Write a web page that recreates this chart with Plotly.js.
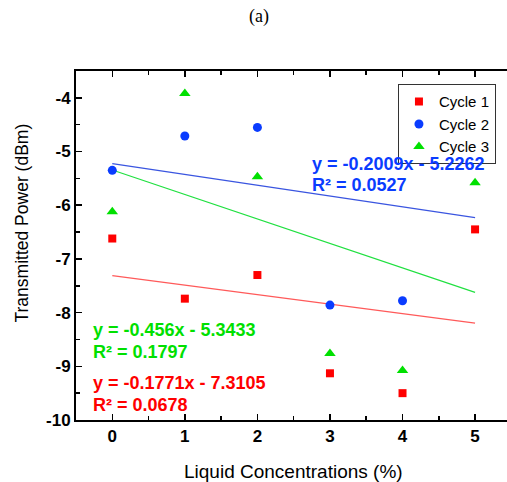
<!DOCTYPE html>
<html><head><meta charset="utf-8">
<script src="https://cdn.plot.ly/plotly-3.0.1.min.js"></script>
<style>html,body{margin:0;padding:0;background:#fff}#c{width:507px;height:482px}</style>
</head><body><div id="c"></div>
<script>
const concentrations = [0, 1, 2, 3, 4, 5];
const cycle1 = [-6.62, -7.74, -7.30, -9.13, -9.50, -6.45];
const cycle2x = [0, 1, 2, 3, 4];
const cycle2 = [-5.35, -4.71, -4.55, -7.86, -7.78];
const cycle3 = [-6.12, -3.92, -5.47, -8.76, -9.08, -5.58];
const seriesNames = ['Cycle 1', 'Cycle 2', 'Cycle 3'];
const fitSlopes = [-0.1771, -0.2009, -0.456];
const fitIntercepts = [-7.3105, -5.2262, -5.3433];
const fitR2 = ['0.0678', '0.0527', '0.1797'];
const fitText = ['y = -0.1771x - 7.3105', 'y = -0.2009x - 5.2262', 'y = -0.456x - 5.3433'];
const yTicks = [-10, -9, -8, -7, -6, -5, -4];

const colors = ['#ff0000', '#0a3cff', '#00e000'];
const lineColors = ['#ff5a5a', '#3a55e0', '#20e040'];
const fitX = [concentrations[0], concentrations[concentrations.length - 1]];
const FONT = 'Arial, Liberation Sans, sans-serif';

const traces = [
  {x: concentrations, y: cycle1, name: seriesNames[0], mode: 'markers', type: 'scatter',
   marker: {symbol: 'square', size: 8, color: colors[0]}},
  {x: cycle2x, y: cycle2, name: seriesNames[1], mode: 'markers', type: 'scatter',
   marker: {symbol: 'circle', size: 9, color: colors[1]}},
  {x: concentrations, y: cycle3, name: seriesNames[2], mode: 'markers', type: 'scatter',
   marker: {symbol: 'triangle-up', size: 10, color: colors[2]}}
];
for (let i = 0; i < 3; i++) {
  traces.unshift({x: fitX, y: fitX.map(v => fitSlopes[i] * v + fitIntercepts[i]),
    mode: 'lines', type: 'scatter', showlegend: false, hoverinfo: 'skip',
    line: {color: lineColors[i], width: 1.2}});
}

const annPos = [
  {x: -0.29, y1: -9.31, y2: -9.72},
  {x: 2.73, y1: -5.24, y2: -5.63},
  {x: -0.29, y1: -8.33, y2: -8.74}
];
const annotations = [];
for (let i = 0; i < 3; i++) {
  const f = {family: FONT, size: 18, color: colors[i]};
  annotations.push({x: annPos[i].x, y: annPos[i].y1, xref: 'x', yref: 'y', text: '<b>' + fitText[i] + '</b>',
    showarrow: false, xanchor: 'left', yanchor: 'middle', font: f});
  annotations.push({x: annPos[i].x, y: annPos[i].y2, xref: 'x', yref: 'y', text: '<b>R² = ' + fitR2[i] + '</b>',
    showarrow: false, xanchor: 'left', yanchor: 'middle', font: f});
}
annotations.push({xref: 'paper', yref: 'paper', x: (21 - 76) / 431, y: (420 - 223.5) / 349,
  text: 'Transmitted Power (dBm)', textangle: -90, showarrow: false, xanchor: 'center', yanchor: 'middle',
  font: {family: FONT, size: 17.5, color: '#000'}});
annotations.push({xref: 'paper', yref: 'paper', x: (293.5 - 76) / 431, y: (420 - 471) / 349,
  text: 'Liquid Concentrations (%)', showarrow: false, xanchor: 'center', yanchor: 'middle',
  font: {family: FONT, size: 19, color: '#000'}});
annotations.push({xref: 'paper', yref: 'paper', x: (259 - 76) / 431, y: (420 - 16) / 349,
  text: '(a)', showarrow: false, xanchor: 'center', yanchor: 'middle',
  font: {family: 'Liberation Serif, Times New Roman, serif', size: 18, color: '#000'}});

const layout = {
  width: 507, height: 482,
  margin: {l: 76, r: 0, t: 71, b: 62},
  paper_bgcolor: '#fff', plot_bgcolor: '#fff',
  font: {family: FONT, color: '#000'},
  xaxis: {range: [-0.5, 5.44], tickvals: concentrations, ticktext: concentrations.map(String),
    showgrid: false, zeroline: false, showline: true, linecolor: '#000', linewidth: 2,
    mirror: 'allticks', ticks: 'inside', ticklen: 6, tickwidth: 1.5, tickcolor: '#000',
    minor: {dtick: 0.5, tick0: 0, ticks: 'inside', ticklen: 4, tickwidth: 1.5, tickcolor: '#000', showgrid: false},
    tickfont: {size: 17, weight: 'bold'}},
  yaxis: {range: [-10, -3.5], tickvals: yTicks, ticktext: yTicks.map(String),
    showgrid: false, zeroline: false, showline: true, linecolor: '#000', linewidth: 2,
    mirror: false, ticks: 'inside', ticklen: 6, tickwidth: 1.5, tickcolor: '#000',
    minor: {dtick: 0.5, tick0: -10, ticks: 'inside', ticklen: 4, tickwidth: 1.5, tickcolor: '#000', showgrid: false},
    tickfont: {size: 17, weight: 'bold'}},
  legend: {x: 0.747, y: 0.962, xanchor: 'left', yanchor: 'top', bgcolor: 'rgba(255,255,255,0)',
    bordercolor: '#333', borderwidth: 1, font: {size: 15}, itemwidth: 30, tracegroupgap: 0},
  annotations: annotations,
  showlegend: true
};
Plotly.newPlot('c', traces, layout, {displayModeBar: false, staticPlot: true});
</script>
</body></html>
